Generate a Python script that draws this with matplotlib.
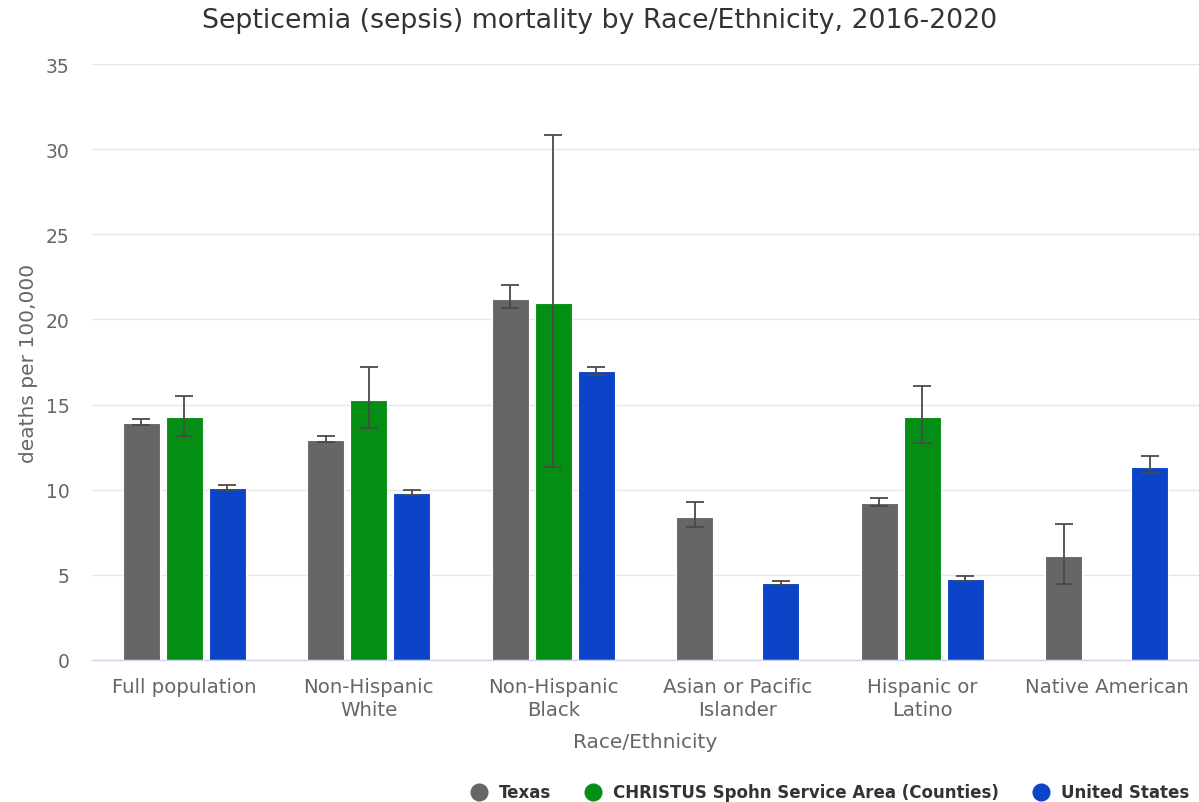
import numpy as np
import matplotlib.pyplot as plt
from matplotlib.lines import Line2D

plt.rcParams['font.family'] = ['DejaVu Sans']

categories = ["Full population", "Non-Hispanic\nWhite", "Non-Hispanic\nBlack",
              "Asian or Pacific\nIslander", "Hispanic or\nLatino", "Native American"]
series_names = ["Texas", "CHRISTUS Spohn Service Area (Counties)", "United States"]
colors = ["#666666", "#058E14", "#0C44C8"]

texas = [13.9, 12.9, 21.2, 8.4, 9.2, 6.1]
texas_lo = [13.8, 12.78, 20.67, 7.83, 9.06, 4.46]
texas_hi = [14.15, 13.15, 22.04, 9.25, 9.52, 7.99]

christus = [14.25, 15.27, 20.98, np.nan, 14.25, np.nan]
christus_lo = [13.13, 13.6, 11.33, np.nan, 12.72, np.nan]
christus_hi = [15.52, 17.2, 30.83, np.nan, 16.08, np.nan]

us = [10.1, 9.82, 16.97, 4.5, 4.76, 11.35]
us_lo = [9.95, 9.7, 16.75, 4.38, 4.65, 10.98]
us_hi = [10.28, 10.0, 17.22, 4.66, 4.91, 11.98]

values = [texas, christus, us]
lows = [texas_lo, christus_lo, us_lo]
highs = [texas_hi, christus_hi, us_hi]

fig = plt.figure(figsize=(11.99, 8.03), dpi=100)
ax = fig.add_axes([0.0767, 0.177, 0.9233, 0.742])

x = np.arange(len(categories))
width = 0.2
pitch = 0.233
for i, (vals, lo, hi, c) in enumerate(zip(values, lows, highs, colors)):
    v = np.array(vals, dtype=float)
    pos = x + (i - 1) * pitch
    ax.bar(pos, v, width=width, color=c, edgecolor="white", linewidth=0.8, zorder=2)
    yerr = np.array([v - np.array(lo), np.array(hi) - v])
    ax.errorbar(pos, v, yerr=yerr, fmt="none", ecolor="#4a4a4a", elinewidth=1.3,
                capsize=6.5, capthick=1.3, zorder=3)

ax.set_xlim(-0.5, len(categories) - 0.5)
ax.set_ylim(0, 35)
ax.set_yticks(range(0, 36, 5))
ax.set_xticks(x)
ax.set_xticklabels(categories, fontsize=14.2, color="#666666", linespacing=1.3)
ax.tick_params(axis="y", labelsize=13.5, labelcolor="#666666", length=0, pad=16)
ax.tick_params(axis="x", length=0, pad=12)
ax.grid(axis="y", color="#e6e6e6", linewidth=1, zorder=0)
ax.set_axisbelow(True)
for s in ["top", "right", "left"]:
    ax.spines[s].set_visible(False)
ax.spines["bottom"].set_color("#ccd6eb")
ax.spines["bottom"].set_linewidth(1)

ax.set_xlabel("Race/Ethnicity", fontsize=14.5, color="#666666", labelpad=9)
ax.set_ylabel("deaths per 100,000", fontsize=14.5, color="#666666", labelpad=6)
fig.suptitle("Septicemia (sepsis) mortality by Race/Ethnicity, 2016-2020",
             fontsize=19.3, color="#333333", y=0.99)

handles = [Line2D([], [], marker="o", linestyle="none", markersize=12,
                  markerfacecolor=c, markeredgecolor=c) for c in colors]
fig.legend(handles, series_names, loc="lower right", bbox_to_anchor=(1.004, -0.018),
           ncol=3, frameon=False, prop={"size": 12, "weight": "bold"},
           labelcolor="#333333", handletextpad=0.2, columnspacing=1.5)

fig.savefig("out.png", dpi=100)
